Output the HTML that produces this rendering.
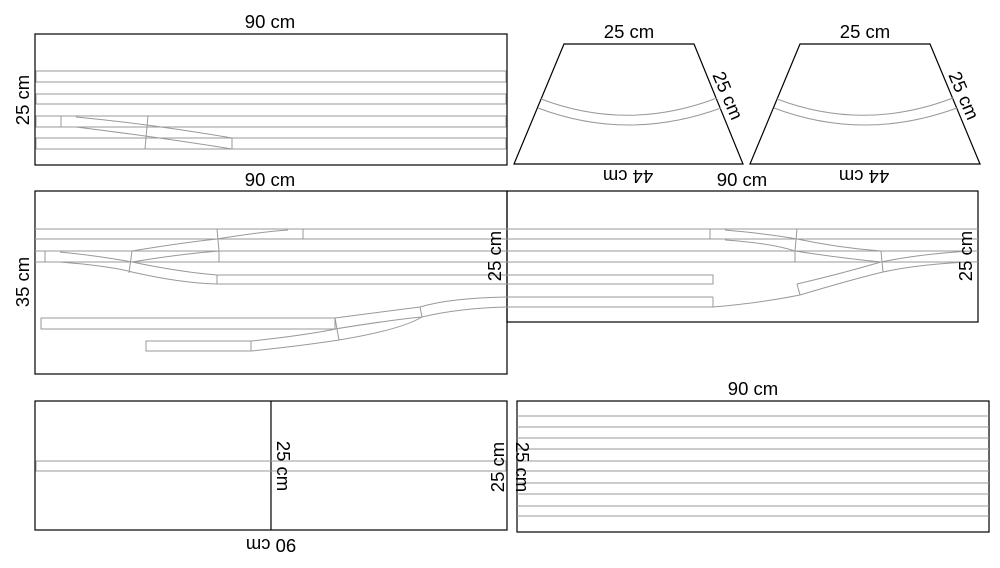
<!DOCTYPE html>
<html><head><meta charset="utf-8"><style>
html,body{margin:0;padding:0;background:#fff;}
svg{display:block;}
text{font-family:"Liberation Sans",sans-serif;font-size:18.5px;fill:#000;}
</style></head><body>
<svg width="1000" height="568" viewBox="0 0 1000 568" xmlns="http://www.w3.org/2000/svg">
<g fill="none" stroke="#000" stroke-width="1.2">
<rect x="35" y="34" width="472" height="131"/>
<polygon points="564,44 694,44 743,164 514,164"/>
<polygon points="800,44 930,44 980,164 750,164"/>
<rect x="35" y="191" width="472" height="183"/>
<rect x="507" y="191" width="471" height="131"/>
<rect x="35" y="401" width="472" height="129"/>
<line x1="271" y1="401" x2="271" y2="530"/>
<rect x="517" y="401" width="472" height="131"/>
</g>
<g fill="none" stroke="#999" stroke-width="1">
<rect x="36" y="71" width="470" height="11"/>
<rect x="36" y="94" width="470" height="10"/>
<rect x="36" y="116" width="470" height="11"/>
<rect x="36" y="138" width="470" height="11"/>
<line x1="61" y1="116" x2="61" y2="127"/>
<line x1="148" y1="116" x2="145" y2="149"/>
<line x1="232" y1="138" x2="232" y2="149"/>
<path d="M76,117 Q150,124 232,138"/>
<path d="M76,127 Q150,136 232,149"/>
<path d="M541,99 Q628,132 717,98"/>
<path d="M538,108 Q628,142 721,108"/>
<path d="M777,99 Q864,132 953,98"/>
<path d="M774,108 Q864,142 957,108"/>
<line x1="35" y1="229" x2="978" y2="229"/>
<line x1="35" y1="239" x2="978" y2="239"/>
<line x1="35" y1="251" x2="978" y2="251"/>
<line x1="35" y1="262" x2="978" y2="262"/>
<rect x="217" y="275" width="496" height="9"/>
<line x1="217" y1="229" x2="219" y2="251"/>
<line x1="303" y1="229" x2="303" y2="239"/>
<line x1="45" y1="251" x2="45" y2="262"/>
<line x1="132" y1="251" x2="129" y2="273"/>
<line x1="219" y1="251" x2="219" y2="262"/>
<path d="M217,239 Q260,232 288,230"/>
<path d="M132,251 Q180,243 217,239"/>
<path d="M132,262 Q180,254 219,251"/>
<path d="M60,252 Q100,256 132,262"/>
<path d="M60,262 Q110,266 132,272 Q180,283 217,284"/>
<path d="M132,262 Q180,272 217,275"/>
<rect x="41" y="318" width="294" height="11"/>
<rect x="146" y="341" width="105" height="10"/>
<path d="M335,318 Q380,312 420,307 Q450,298 507,297 L713,297"/>
<path d="M335,329 Q390,320 422,317 Q460,308 507,307 L713,307"/>
<line x1="713" y1="297" x2="713" y2="307"/>
<line x1="335" y1="318" x2="339" y2="340"/>
<line x1="420" y1="307" x2="422" y2="317"/>
<path d="M251,341 Q300,336 336,329"/>
<path d="M251,351 Q300,346 339,340 Q400,330 422,317"/>
<line x1="710" y1="229" x2="710" y2="239"/>
<line x1="797" y1="229" x2="795" y2="251"/>
<line x1="795" y1="251" x2="795" y2="262"/>
<line x1="881" y1="251" x2="883" y2="272"/>
<line x1="797" y1="284" x2="800" y2="295"/>
<path d="M725,230 Q770,234 797,239 Q840,248 881,251"/>
<path d="M725,240 Q770,243 795,251 Q840,258 881,262"/>
<path d="M797,284 Q840,274 881,262 Q920,254 970,251"/>
<path d="M713,307 Q760,303 800,295 Q850,280 883,272 Q920,264 970,262"/>
<rect x="36" y="461" width="470" height="10"/>
<line x1="517" y1="416" x2="989" y2="416"/>
<line x1="517" y1="427" x2="989" y2="427"/>
<line x1="517" y1="438" x2="989" y2="438"/>
<line x1="517" y1="449" x2="989" y2="449"/>
<line x1="517" y1="461" x2="989" y2="461"/>
<line x1="517" y1="471" x2="989" y2="471"/>
<line x1="517" y1="483" x2="989" y2="483"/>
<line x1="517" y1="494" x2="989" y2="494"/>
<line x1="517" y1="506" x2="989" y2="506"/>
<line x1="517" y1="516" x2="989" y2="516"/>
</g>
<g text-anchor="middle">
<text x="270" y="28">90 cm</text>
<text x="270" y="186">90 cm</text>
<text transform="translate(29,100) rotate(-90)">25 cm</text>
<text x="629" y="38">25 cm</text>
<text x="865" y="38">25 cm</text>
<text transform="translate(628,170) rotate(180)">44 cm</text>
<text transform="translate(864,170) rotate(180)">44 cm</text>
<text x="742" y="186">90 cm</text>
<text transform="translate(722,98) rotate(67)">25 cm</text>
<text transform="translate(958,98) rotate(67)">25 cm</text>
<text transform="translate(29,282) rotate(-90)">35 cm</text>
<text transform="translate(501,256) rotate(-90)">25 cm</text>
<text transform="translate(972,256) rotate(-90)">25 cm</text>
<text transform="translate(277,466) rotate(90)">25 cm</text>
<text transform="translate(271,539) rotate(180)">90 cm</text>
<text transform="translate(504,467) rotate(-90)">25 cm</text>
<text transform="translate(516,467) rotate(90)">25 cm</text>
<text x="753" y="395">90 cm</text>
</g>
</svg>
</body></html>
